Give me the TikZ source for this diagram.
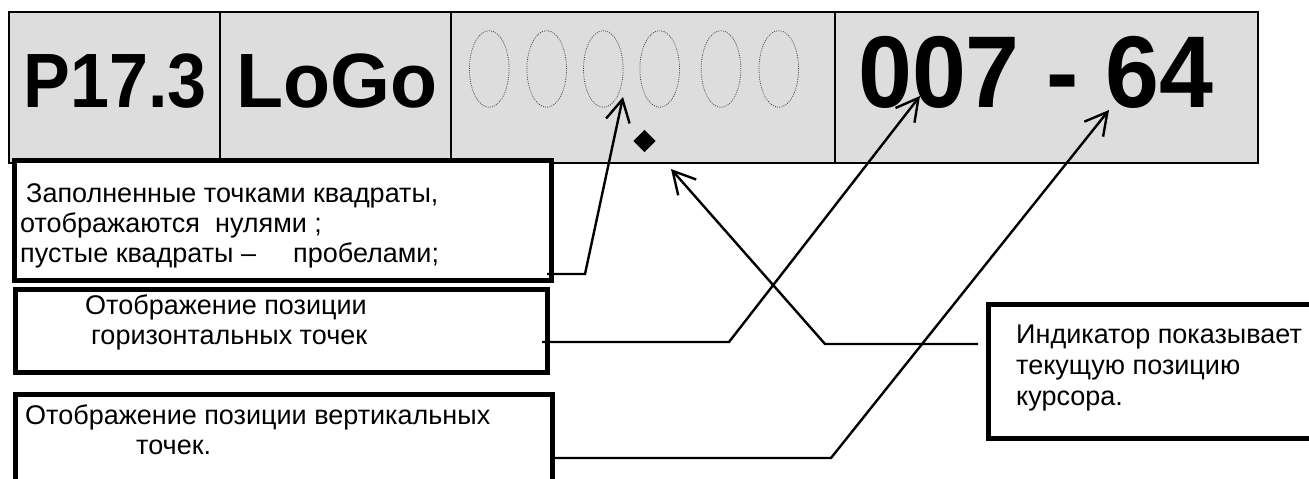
\documentclass[tikz,border=0pt]{standalone}
\usepackage{fontspec}
\setmainfont{Liberation Sans}
\usetikzlibrary{arrows.meta,shapes.geometric}
\definecolor{barGray}{RGB}{221,221,221}
\begin{document}
\begin{tikzpicture}[x=1pt,y=-1pt,
  cell/.style={draw, fill=barGray, line width=1.6pt, minimum height=151pt, inner sep=0, outer sep=0},
  bigtxt/.style={inner sep=0, anchor=base, font=\bfseries\fontsize{77}{80}\selectfont},
  box/.style={draw, fill=white, line width=5pt, inner sep=0, outer sep=0},
  txt/.style={inner sep=0, anchor=base west, font=\fontsize{27}{30}\selectfont},
  dotell/.style={ellipse, draw=black!75, line width=0.8pt, dash pattern=on 0.9pt off 1.3pt, minimum width=39.6pt, minimum height=76.6pt, inner sep=0},
  conn/.style={line width=2.4pt},
  arr/.style={conn, -{Straight Barb[length=22pt,width=24pt]}}
]
\useasboundingbox (0,0) rectangle (1309,479);
% top display bar
\node[cell, minimum width=211pt] (c1) at (114.5,87.5) {};
\node[cell, minimum width=231pt] (c2) at (335.5,87.5) {};
\node[cell, minimum width=384pt] (c3) at (643,87.5) {};
\node[cell, minimum width=423pt] (c4) at (1046.5,87.5) {};
\node[bigtxt] (p) at (115,107) {\scalebox{0.91}[1]{P17.3}};
\node[bigtxt] (logo) at (336.5,107) {LoGo};
\node[bigtxt, font=\bfseries\fontsize{102}{102}\selectfont] (val) at (1036,107) {\scalebox{0.95}[1]{007 - 64}};
\foreach \i/\x in {1/489.2,2/546.7,3/603.3,4/659.7,5/721,6/778.8}
  \node[dotell] (e\i) at (\x,69) {};
\node[diamond, fill=black, minimum size=22.5pt, inner sep=0] (cur) at (644.5,141) {};
% boxes
\node[box, minimum width=537pt, minimum height=120.5pt] (b1) at (283,220.25) {};
\node[box, minimum width=532.5pt, minimum height=83pt] (b2) at (281.25,331) {};
\node[box, minimum width=537.5pt, minimum height=106pt] (b3) at (283.75,447) {};
\node[box, minimum width=341.5pt, minimum height=133.5pt] (b4) at (1159.25,371.25) {};
% texts
\node[txt] (b1l1) at (26,202) {Заполненные точками квадраты,};
\node[txt] (b1l2) at (20,232) {отображаются\ \ нулями ;};
\node[txt] (b1l3) at (20,262) {пустые квадраты –\hspace{37pt}пробелами;};
\node[txt] (b2l1) at (85,314) {Отображение позиции};
\node[txt] (b2l2) at (91,344) {горизонтальных точек};
\node[txt] (b3l1) at (25,424) {Отображение позиции вертикальных};
\node[txt] (b3l2) at (136,454) {точек.};
\node[txt] (b4l1) at (1016,343) {Индикатор показывает};
\node[txt] (b4l2) at (1016,374) {текущую позицию};
\node[txt] (b4l3) at (1016,405) {курсора.};
% connectors
\coordinate (t1) at (623,97);
\coordinate (t2) at (920,96);
\coordinate (t3) at (1109,110);
\coordinate (t4) at (671,169);
\draw[arr] (b1.east |- 0,274) ++(-4.5,0) -- ++(38,0) -- (t1);
\draw[arr] (b2.east |- 0,342) ++(-5.5,0) -- (729,342) -- (t2);
\draw[arr] (b3.east |- 0,458) -- (831,458) -- (t3);
\draw[arr] (b4.west |- 0,344) ++(-10.5,0) -- (825,344) -- (t4);
\end{tikzpicture}
\end{document}
